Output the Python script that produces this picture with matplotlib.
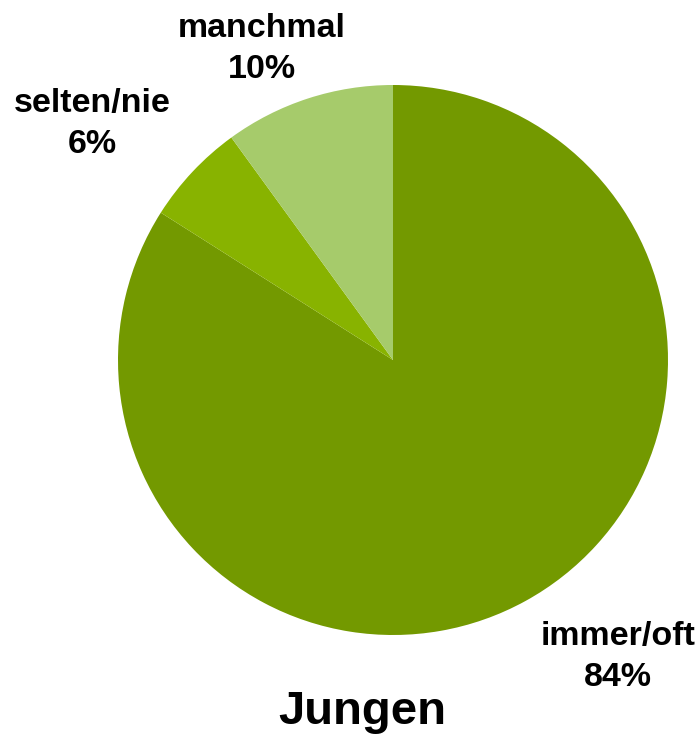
import matplotlib.pyplot as plt

labels = ['immer/oft', 'selten/nie', 'manchmal']
values = [84, 6, 10]
colors = ['#739900', '#88b300', '#a6cb6b']
title = 'Jungen'

W, H = 699, 736
cx, cy, r = 393, 360, 275

fig = plt.figure(figsize=(W / 100, H / 100), dpi=100)
ax = fig.add_axes([0, 0, 1, 1])
ax.pie(values, colors=colors, startangle=90, counterclock=False,
       wedgeprops=dict(linewidth=0))
# pie has radius 1 centred at 0,0; map to pixel layout
ax.set_xlim(-cx / r, (W - cx) / r)
ax.set_ylim(-(H - cy) / r, cy / r)
ax.set_aspect('auto')
ax.axis('off')

font = dict(family=['Liberation Sans', 'DejaVu Sans'], weight='bold',
            fontsize=24.5, ha='center', va='center', linespacing=1.45)

# label positions in pixels (x, y from top)
label_pos = {'immer/oft': (618, 657), 'selten/nie': (92, 124), 'manchmal': (262, 49)}
for lab, val in zip(labels, values):
    px, py = label_pos[lab]
    fig.text(px / W, 1 - py / H, f'{lab}\n{val}%', **font)

fig.text(362 / W, 1 - 712 / H, title, family=['Liberation Sans', 'DejaVu Sans'],
         weight='bold', fontsize=34, ha='center', va='center')

fig.savefig('out.png', dpi=100)
